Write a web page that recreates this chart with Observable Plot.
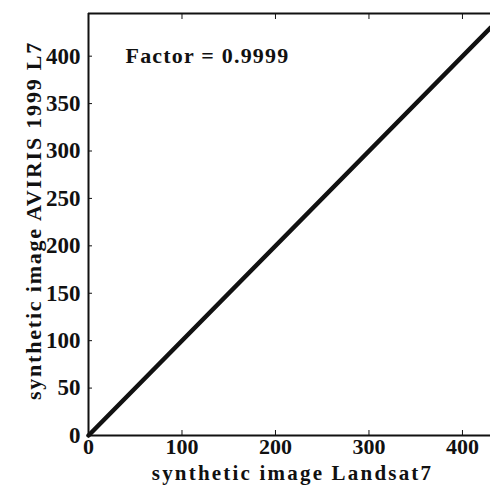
<!DOCTYPE html>
<html><head><meta charset="utf-8">
<script src="https://cdn.jsdelivr.net/npm/d3@7"></script>
<script src="https://cdn.jsdelivr.net/npm/@observablehq/plot@0.6"></script>
<style>body{margin:0;background:#fff}</style>
</head><body><div id="chart"></div>
<script>
const landsat = [0, 430];
const aviris = [0, 430];
const xTicks = [0, 100, 200, 300, 400];
const yTicks = [0, 50, 100, 150, 200, 250, 300, 350, 400];
const factorText = "Factor = 0.9999";
const xLabel = "synthetic image Landsat7";
const yLabel = "synthetic image AVIRIS 1999 L7";

const data = landsat.map((x, i) => ({x, y: aviris[i]}));
const font = "Liberation Serif, Times New Roman, serif";

const chart = Plot.plot({
  width: 490, height: 488,
  marginLeft: 88, marginRight: 0, marginTop: 13, marginBottom: 53,
  style: {fontFamily: font, fontWeight: "bold", fontSize: "23px", color: "#111", background: "#fff"},
  x: {domain: [0, 430]},
  y: {domain: [0, 445]},
  marks: [
    Plot.ruleY([0], {stroke: "#111", strokeWidth: 2}),
    Plot.ruleX([0], {stroke: "#111", strokeWidth: 2}),
    Plot.ruleY([445], {stroke: "#111", strokeWidth: 2}),
    Plot.axisX({ticks: xTicks, tickSize: -5, tickPadding: 8, label: null, tickFormat: d => d, fontSize: 22}),
    Plot.axisX({anchor: "top", ticks: xTicks.slice(1), tickSize: -5, tickFormat: () => "", label: null}),
    Plot.axisY({ticks: yTicks, tickSize: -4, tickPadding: 12, label: null, tickFormat: d => d, fontSize: 23}),
    Plot.line(data, {x: "x", y: "y", stroke: "#111", strokeWidth: 4.5}),
    Plot.text([factorText], {frameAnchor: "top-left", dx: 37, dy: 34, fontSize: 22, fontWeight: "bold", textAnchor: "start"}),
    Plot.text([xLabel], {frameAnchor: "bottom", dx: 3, dy: 44, fontSize: 21, fontWeight: "bold", textAnchor: "middle"}),
    Plot.text([yLabel], {frameAnchor: "left", dx: -55, dy: -4, rotate: -90, fontSize: 22, fontWeight: "bold", textAnchor: "middle"})
  ]
});
document.getElementById("chart").append(chart);
const spacing = {[factorText]: "1.2px", [xLabel]: "2.2px", [yLabel]: "1.8px"};
d3.select(chart).selectAll("text").each(function() {
  const t = this.textContent;
  if (spacing[t]) this.setAttribute("letter-spacing", spacing[t]);
});
</script>
</body></html>
